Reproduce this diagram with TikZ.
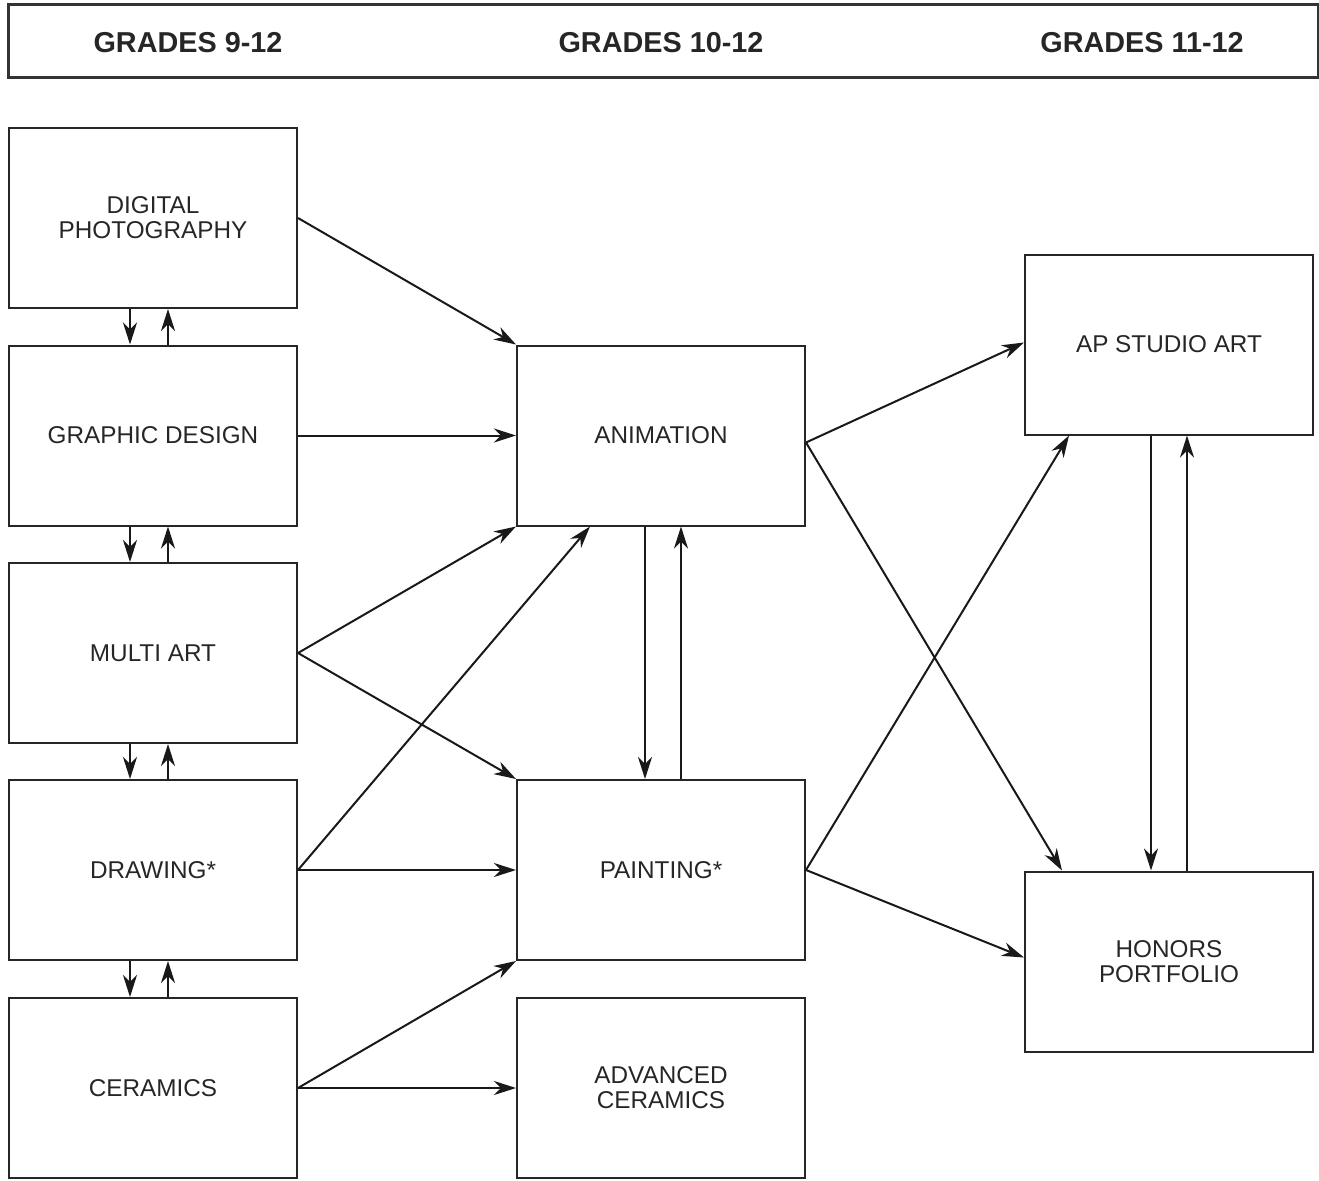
\documentclass[tikz,border=0pt]{standalone}
\usepackage{fontspec}
\setmainfont{Liberation Sans}
\usetikzlibrary{arrows.meta,calc}
\begin{document}
\begin{tikzpicture}[x=1pt,y=-1pt,
  box/.style={draw=black!85, line width=2pt, minimum width=288pt, minimum height=180pt,
    inner sep=0pt, align=center, font=\fontsize{24.3}{25}\selectfont, text=black!85},
  hdr/.style={font=\fontsize{28.8}{30}\selectfont\bfseries, text=black!85},
  conn/.style={line width=2pt, draw=black!90, -{Stealth[length=22pt,width=14pt,inset=7pt]}}
]
\useasboundingbox (0,0) rectangle (1319,1180);
\node[draw=black!80, line width=3pt, minimum width=1310pt, minimum height=73pt, inner sep=0pt] (header) at (663,41.5) {};
\node[hdr] (g1) at (188,43) {GRADES 9-12};
\node[hdr] (g2) at (661,43) {GRADES 10-12};
\node[hdr] (g3) at (1142,43) {GRADES 11-12};

\node[box] (dp) at (153,218) {DIGITAL\\PHOTOGRAPHY};
\node[box] (gd) at (153,435.5) {GRAPHIC DESIGN};
\node[box] (ma) at (153,653) {MULTI ART};
\node[box] (dr) at (153,870) {DRAWING*};
\node[box] (ce) at (153,1088) {CERAMICS};

\node[box] (an) at (661,435.5) {ANIMATION};
\node[box] (pa) at (661,870) {PAINTING*};
\node[box] (ac) at (661,1088) {ADVANCED\\CERAMICS};

\node[box] (ap) at (1169,344.5) {AP STUDIO ART};
\node[box] (ho) at (1169,961.5) {HONORS\\PORTFOLIO};

% left column vertical pairs
\foreach \a/\b in {dp/gd, gd/ma, ma/dr, dr/ce}{
  \draw[conn] ([xshift=-23pt]\a.south) -- ([xshift=-23pt]\b.north);
  \draw[conn] ([xshift=15pt]\b.north) -- ([xshift=15pt]\a.south);
}

\draw[conn] (dp.east) -- (an.north west);
\draw[conn] (gd.east) -- (an.west);
\draw[conn] (ma.east) -- (an.south west);
\draw[conn] (ma.east) -- (pa.north west);
\draw[conn] (dr.east) -- ([xshift=-71pt]an.south);
\draw[conn] (dr.east) -- (pa.west);
\draw[conn] (ce.east) -- (pa.south west);
\draw[conn] (ce.east) -- (ac.west);

\draw[conn] ([xshift=-16pt]an.south) -- ([xshift=-16pt]pa.north);
\draw[conn] ([xshift=20pt]pa.north) -- ([xshift=20pt]an.south);

\draw[conn] ([yshift=-7pt]an.east) -- ([yshift=2pt]ap.west);
\draw[conn] ([yshift=-7pt]an.east) -- ([xshift=38pt]ho.north west);
\draw[conn] (pa.east) -- ([xshift=45pt]ap.south west);
\draw[conn] (pa.east) -- ([yshift=4pt]ho.west);

\draw[conn] ([xshift=-18pt]ap.south) -- ([xshift=-18pt]ho.north);
\draw[conn] ([xshift=18pt]ho.north) -- ([xshift=18pt]ap.south);
\end{tikzpicture}
\end{document}
